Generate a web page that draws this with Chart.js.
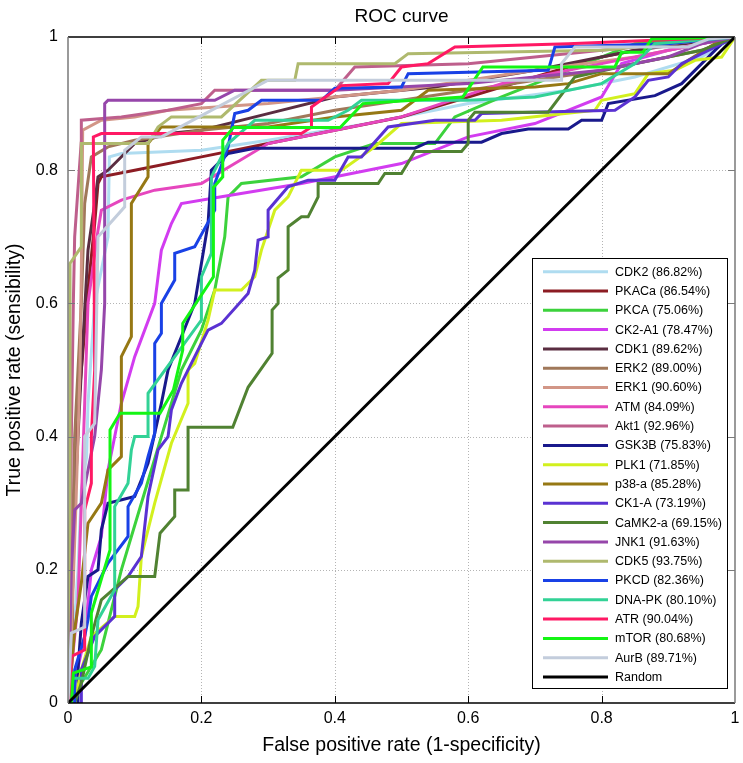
<!DOCTYPE html>
<html lang="en">
<head>
<meta charset="UTF-8">
<title>ROC curve</title>
<script src="https://cdn.jsdelivr.net/npm/chart.js"></script>
<style>
  html, body { margin: 0; padding: 0; background: #fff; }
</style>
</head>
<body>
<canvas id="roc" width="743" height="763"></canvas>
<script>
// kinase names and AUC values, in legend order
const kinases = ['CDK2', 'PKACa', 'PKCA', 'CK2-A1', 'CDK1', 'ERK2', 'ERK1', 'ATM', 'Akt1', 'GSK3B', 'PLK1',
                 'p38-a', 'CK1-A', 'CaMK2-a', 'JNK1', 'CDK5', 'PKCD', 'DNA-PK', 'ATR', 'mTOR', 'AurB'];
const aucs = ['86.82', '86.54', '75.06', '78.47', '89.62', '89.00', '90.60', '84.09', '92.96', '75.83', '71.85',
              '85.28', '73.19', '69.15', '91.63', '93.75', '82.36', '80.10', '90.04', '80.68', '89.71'];
const colors = ['rgb(175,220,240)', 'rgb(140,28,35)', 'rgb(60,210,60)', 'rgb(210,60,240)', 'rgb(90,45,65)',
                'rgb(160,120,90)', 'rgb(210,150,135)', 'rgb(230,70,190)', 'rgb(190,95,140)', 'rgb(25,25,140)',
                'rgb(210,240,30)', 'rgb(150,120,20)', 'rgb(90,50,210)', 'rgb(80,130,50)', 'rgb(150,70,170)',
                'rgb(175,185,110)', 'rgb(25,65,230)', 'rgb(50,210,150)', 'rgb(255,25,100)', 'rgb(20,245,20)',
                'rgb(195,205,220)'];

// [false positive rate, true positive rate]
const cdk2 = [[0,0],[0.005,0.05],[0.015,0.2],[0.02,0.32],[0.028,0.37],[0.03,0.45],[0.04,0.6],[0.06,0.7],[0.062,0.82],[0.08,0.825],[0.2,0.83],[0.3,0.845],[0.45,0.87],[0.6,0.9],[0.75,0.92],[0.85,0.94],[0.95,0.97],[1,1]];
const pkaca = [[0,0],[0.005,0.05],[0.008,0.25],[0.012,0.4],[0.02,0.5],[0.03,0.62],[0.04,0.72],[0.045,0.78],[0.05,0.79],[0.1,0.8],[0.2,0.82],[0.3,0.84],[0.4,0.86],[0.5,0.88],[0.6,0.91],[0.7,0.94],[0.8,0.97],[0.9,0.99],[1,1]];
const pkca = [[0,0],[0.02,0.03],[0.05,0.08],[0.08,0.2],[0.11,0.3],[0.14,0.4],[0.17,0.5],[0.2,0.56],[0.22,0.62],[0.235,0.7],[0.24,0.76],[0.26,0.78],[0.35,0.79],[0.4,0.82],[0.46,0.84],[0.55,0.84],[0.58,0.88],[0.65,0.91],[0.75,0.95],[0.85,0.99],[1,1]];
const ck2a1 = [[0,0],[0.01,0.03],[0.025,0.1],[0.035,0.2],[0.05,0.25],[0.06,0.35],[0.08,0.45],[0.1,0.52],[0.13,0.6],[0.14,0.68],[0.155,0.72],[0.17,0.75],[0.23,0.76],[0.35,0.78],[0.5,0.81],[0.6,0.85],[0.7,0.87],[0.8,0.91],[0.83,0.96],[0.9,0.98],[1,1]];
const cdk1 = [[0,0],[0.005,0.1],[0.01,0.3],[0.02,0.5],[0.03,0.68],[0.04,0.75],[0.045,0.79],[0.06,0.8],[0.1,0.84],[0.15,0.855],[0.2,0.86],[0.3,0.885],[0.4,0.91],[0.55,0.925],[0.7,0.95],[0.85,0.98],[1,1]];
const erk2 = [[0,0],[0.005,0.15],[0.01,0.4],[0.02,0.6],[0.025,0.75],[0.035,0.82],[0.06,0.835],[0.1,0.845],[0.2,0.86],[0.3,0.87],[0.4,0.89],[0.6,0.92],[0.8,0.95],[0.95,0.98],[1,1]];
const erk1 = [[0,0],[0.005,0.1],[0.012,0.3],[0.018,0.5],[0.02,0.65],[0.022,0.86],[0.05,0.875],[0.1,0.88],[0.15,0.89],[0.3,0.9],[0.5,0.92],[0.7,0.95],[0.85,0.97],[1,1]];
const atm = [[0,0],[0.005,0.05],[0.015,0.15],[0.02,0.3],[0.025,0.45],[0.03,0.6],[0.045,0.71],[0.05,0.74],[0.08,0.755],[0.13,0.77],[0.2,0.78],[0.25,0.81],[0.3,0.84],[0.4,0.86],[0.5,0.88],[0.65,0.93],[0.8,0.96],[1,1]];
const akt1 = [[0,0],[0.003,0.2],[0.005,0.4],[0.008,0.6],[0.01,0.7],[0.02,0.845],[0.02,0.875],[0.08,0.88],[0.15,0.89],[0.2,0.9],[0.22,0.92],[0.4,0.92],[0.43,0.955],[0.6,0.96],[0.8,0.98],[1,1]];
const gsk3b = [[0.015,0],[0.015,0.05],[0.02,0.12],[0.03,0.19],[0.045,0.2],[0.05,0.26],[0.06,0.3],[0.1,0.31],[0.12,0.36],[0.14,0.45],[0.15,0.5],[0.17,0.55],[0.19,0.6],[0.2,0.66],[0.21,0.72],[0.215,0.8],[0.24,0.825],[0.28,0.833],[0.52,0.833],[0.54,0.842],[0.62,0.842],[0.65,0.855],[0.69,0.862],[0.75,0.862],[0.77,0.875],[0.8,0.875],[0.81,0.9],[0.88,0.912],[0.92,0.93],[0.98,0.99],[1,1]];
const plk1 = [[0.01,0],[0.02,0.05],[0.035,0.1],[0.07,0.13],[0.1,0.13],[0.105,0.145],[0.11,0.22],[0.13,0.3],[0.155,0.39],[0.18,0.45],[0.18,0.5],[0.19,0.51],[0.21,0.575],[0.22,0.62],[0.26,0.62],[0.28,0.64],[0.29,0.68],[0.31,0.74],[0.33,0.76],[0.35,0.8],[0.41,0.8],[0.46,0.835],[0.5,0.87],[0.65,0.875],[0.79,0.89],[0.8,0.905],[0.85,0.915],[0.87,0.945],[0.91,0.95],[0.94,0.965],[0.98,0.97],[1,1]];
const p38a = [[0,0],[0.005,0.05],[0.01,0.11],[0.02,0.18],[0.03,0.27],[0.05,0.3],[0.06,0.35],[0.08,0.37],[0.08,0.52],[0.095,0.55],[0.095,0.75],[0.12,0.79],[0.12,0.84],[0.14,0.865],[0.3,0.865],[0.4,0.88],[0.5,0.89],[0.54,0.92],[0.7,0.925],[0.75,0.93],[0.8,0.945],[0.9,0.945],[0.93,0.965],[0.97,0.99],[1,1]];
const ck1a = [[0.02,0],[0.02,0.05],[0.04,0.1],[0.07,0.13],[0.07,0.17],[0.09,0.19],[0.11,0.22],[0.12,0.31],[0.135,0.38],[0.15,0.4],[0.155,0.44],[0.17,0.48],[0.19,0.52],[0.21,0.56],[0.23,0.57],[0.27,0.615],[0.28,0.65],[0.285,0.695],[0.3,0.7],[0.3,0.74],[0.33,0.775],[0.36,0.785],[0.4,0.785],[0.42,0.82],[0.44,0.82],[0.48,0.865],[0.55,0.875],[0.61,0.875],[0.62,0.885],[0.82,0.89],[0.85,0.91],[0.87,0.935],[0.9,0.94],[0.92,0.96],[0.96,0.98],[1,1]];
const camk2a = [[0.01,0],[0.02,0.03],[0.035,0.1],[0.05,0.155],[0.09,0.19],[0.13,0.19],[0.138,0.255],[0.16,0.28],[0.16,0.32],[0.18,0.32],[0.18,0.414],[0.247,0.414],[0.27,0.474],[0.306,0.525],[0.306,0.59],[0.315,0.6],[0.315,0.638],[0.33,0.65],[0.33,0.715],[0.35,0.73],[0.36,0.73],[0.375,0.76],[0.375,0.78],[0.465,0.78],[0.475,0.795],[0.5,0.795],[0.52,0.828],[0.59,0.828],[0.6,0.84],[0.6,0.875],[0.61,0.887],[0.72,0.887],[0.76,0.94],[0.85,0.96],[0.95,0.98],[1,1]];
const jnk1 = [[0,0],[0.003,0.1],[0.005,0.2],[0.01,0.29],[0.02,0.3],[0.03,0.35],[0.04,0.4],[0.05,0.5],[0.055,0.6],[0.055,0.9],[0.06,0.905],[0.22,0.905],[0.25,0.92],[0.4,0.92],[0.6,0.93],[0.8,0.95],[0.9,0.97],[0.95,0.99],[1,1]];
const cdk5 = [[0,0],[0,0.1],[0.003,0.3],[0.003,0.66],[0.02,0.685],[0.02,0.84],[0.12,0.84],[0.135,0.865],[0.155,0.88],[0.23,0.88],[0.29,0.935],[0.34,0.935],[0.345,0.96],[0.49,0.96],[0.51,0.975],[0.8,0.98],[0.9,0.99],[1,1]];
const pkcd = [[0.01,0],[0.01,0.05],[0.025,0.1],[0.03,0.125],[0.035,0.16],[0.06,0.21],[0.09,0.25],[0.09,0.295],[0.11,0.33],[0.12,0.37],[0.13,0.405],[0.13,0.54],[0.14,0.555],[0.14,0.6],[0.16,0.635],[0.16,0.675],[0.19,0.685],[0.22,0.74],[0.22,0.78],[0.24,0.835],[0.25,0.885],[0.27,0.89],[0.29,0.905],[0.38,0.905],[0.4,0.923],[0.5,0.925],[0.51,0.945],[0.72,0.95],[0.73,0.985],[0.9,0.99],[1,1]];
const dnapk = [[0.005,0],[0.005,0.037],[0.03,0.037],[0.04,0.055],[0.045,0.125],[0.07,0.17],[0.07,0.295],[0.09,0.33],[0.095,0.38],[0.1,0.4],[0.12,0.4],[0.12,0.465],[0.2,0.575],[0.2,0.64],[0.215,0.675],[0.215,0.79],[0.24,0.84],[0.28,0.875],[0.39,0.875],[0.42,0.89],[0.44,0.905],[0.6,0.905],[0.7,0.91],[0.8,0.93],[0.85,0.96],[0.88,0.99],[1,1]];
const atr = [[0.002,0],[0.005,0.07],[0.025,0.08],[0.025,0.29],[0.035,0.33],[0.035,0.4],[0.04,0.5],[0.038,0.85],[0.05,0.855],[0.35,0.855],[0.365,0.865],[0.365,0.895],[0.41,0.927],[0.48,0.93],[0.5,0.955],[0.54,0.96],[0.58,0.985],[0.75,0.99],[1,1]];
const mtor = [[0.005,0],[0.008,0.045],[0.035,0.054],[0.035,0.135],[0.063,0.23],[0.063,0.41],[0.078,0.435],[0.138,0.435],[0.158,0.47],[0.172,0.53],[0.172,0.57],[0.218,0.64],[0.218,0.774],[0.232,0.79],[0.232,0.845],[0.248,0.864],[0.408,0.864],[0.442,0.9],[0.592,0.91],[0.622,0.955],[0.82,0.955],[0.83,0.977],[0.862,0.977],[0.875,0.997],[1,1]];
const aurb = [[0,0],[0.005,0.105],[0.025,0.114],[0.025,0.4],[0.04,0.42],[0.045,0.7],[0.085,0.745],[0.085,0.83],[0.11,0.85],[0.14,0.85],[0.3,0.935],[0.74,0.935],[0.74,0.96],[0.76,0.985],[0.93,0.985],[0.96,0.997],[1,1]];
const randomLine = [[0,0],[1,1]];

const curves = [cdk2, pkaca, pkca, ck2a1, cdk1, erk2, erk1, atm, akt1, gsk3b, plk1,
                p38a, ck1a, camk2a, jnk1, cdk5, pkcd, dnapk, atr, mtor, aurb];

const xTicks = [0, 0.2, 0.4, 0.6, 0.8, 1];
const yTicks = [0, 0.2, 0.4, 0.6, 0.8, 1];

const FONT = "'Liberation Sans', Arial, sans-serif";

const datasets = curves.map((pts, i) => ({
    label: kinases[i] + ' (' + aucs[i] + '%)',
    data: pts.map(p => ({ x: p[0], y: p[1] })),
    borderColor: colors[i],
    borderWidth: 3,
    pointRadius: 0,
    fill: false,
    tension: 0,
    order: curves.length + 1 - i   // later series drawn on top
}));
datasets.push({
    label: 'Random',
    data: randomLine.map(p => ({ x: p[0], y: p[1] })),
    borderColor: '#000',
    borderWidth: 3,
    pointRadius: 0,
    fill: false,
    order: 0
});

// matlab style tick text: 0, 0.2, ... 1
const tickText = v => String(Math.round(v * 10) / 10);

// grid, axes box, title and the inset legend
const matlabFrame = {
    id: 'matlabFrame',
    beforeDatasetsDraw(chart) {
        const { ctx, chartArea: a, scales: { x, y } } = chart;
        ctx.save();
        ctx.strokeStyle = '#b4b4b4';
        ctx.lineWidth = 1;
        ctx.setLineDash([1, 2]);
        xTicks.slice(1, -1).forEach(v => {
            const px = Math.round(x.getPixelForValue(v)) + 0.5;
            ctx.beginPath(); ctx.moveTo(px, a.top); ctx.lineTo(px, a.bottom); ctx.stroke();
        });
        yTicks.slice(1, -1).forEach(v => {
            const py = Math.round(y.getPixelForValue(v)) + 0.5;
            ctx.beginPath(); ctx.moveTo(a.left, py); ctx.lineTo(a.right, py); ctx.stroke();
        });
        ctx.restore();
    },
    afterDatasetsDraw(chart) {
        const { ctx, chartArea: a, scales: { x, y } } = chart;
        ctx.save();
        // box
        ctx.lineWidth = 1.5;
        ctx.strokeStyle = '#000';
        ctx.beginPath();
        ctx.moveTo(a.left, a.top); ctx.lineTo(a.right, a.top);
        ctx.moveTo(a.left, a.bottom); ctx.lineTo(a.right, a.bottom);
        ctx.stroke();
        ctx.strokeStyle = '#7a7a7a';
        ctx.beginPath();
        ctx.moveTo(a.left, a.top); ctx.lineTo(a.left, a.bottom);
        ctx.moveTo(a.right, a.top); ctx.lineTo(a.right, a.bottom);
        ctx.stroke();
        // inward tick marks
        ctx.lineWidth = 1;
        ctx.strokeStyle = '#000';
        xTicks.slice(1, -1).forEach(v => {
            const px = Math.round(x.getPixelForValue(v)) + 0.5;
            ctx.beginPath();
            ctx.moveTo(px, a.top); ctx.lineTo(px, a.top + 7);
            ctx.moveTo(px, a.bottom); ctx.lineTo(px, a.bottom - 7);
            ctx.stroke();
        });
        ctx.strokeStyle = '#7a7a7a';
        yTicks.slice(1, -1).forEach(v => {
            const py = Math.round(y.getPixelForValue(v)) + 0.5;
            ctx.beginPath();
            ctx.moveTo(a.left, py); ctx.lineTo(a.left + 7, py);
            ctx.moveTo(a.right, py); ctx.lineTo(a.right - 7, py);
            ctx.stroke();
        });

        // title
        ctx.fillStyle = '#000';
        ctx.font = '19px ' + FONT;
        ctx.textAlign = 'center';
        ctx.textBaseline = 'middle';
        ctx.fillText('ROC curve', (a.left + a.right) / 2, 17);

        // legend inside the plot
        const items = chart.data.datasets;
        const rowH = 19.3;
        const boxW = 195;
        const boxH = 14 + (items.length - 1) * rowH + 11;
        const bx = a.right - 8 - boxW;
        const by = a.bottom - 15 - boxH;
        ctx.fillStyle = '#fff';
        ctx.fillRect(bx, by, boxW, boxH);
        ctx.lineWidth = 1;
        ctx.strokeStyle = '#000';
        ctx.strokeRect(Math.round(bx) + 0.5, Math.round(by) + 0.5, boxW, Math.round(boxH));
        ctx.font = '12.5px ' + FONT;
        ctx.textAlign = 'left';
        items.forEach((ds, i) => {
            const ry = by + 14 + i * rowH;
            ctx.strokeStyle = ds.borderColor;
            ctx.lineWidth = 3;
            ctx.beginPath();
            ctx.moveTo(bx + 11, ry); ctx.lineTo(bx + 76, ry);
            ctx.stroke();
            ctx.fillStyle = '#000';
            ctx.fillText(ds.label, bx + 83, ry + 0.5);
        });
        ctx.restore();
    }
};

new Chart(document.getElementById('roc'), {
    type: 'line',
    data: { datasets },
    options: {
        responsive: false,
        animation: false,
        layout: { padding: { top: 37, right: 8, left: 0, bottom: 0 } },
        plugins: { legend: { display: false }, tooltip: { enabled: false } },
        scales: {
            x: {
                type: 'linear',
                min: 0, max: 1,
                afterFit: s => { s.height = 60; s.paddingLeft = 0; s.paddingRight = 0; },
                afterBuildTicks: s => { s.ticks = xTicks.map(v => ({ value: v })); },
                grid: { display: false, drawTicks: false },
                border: { display: false },
                ticks: { color: '#000', font: { family: FONT, size: 16 }, padding: 6, maxRotation: 0,
                         callback: tickText },
                title: { display: true, text: 'False positive rate (1-specificity)', color: '#000',
                         font: { family: FONT, size: 19.5 }, padding: { top: 0, bottom: 6 } }
            },
            y: {
                type: 'linear',
                min: 0, max: 1,
                afterFit: s => { s.width = 68; s.paddingTop = 0; s.paddingBottom = 0; },
                afterBuildTicks: s => { s.ticks = yTicks.map(v => ({ value: v })); },
                grid: { display: false, drawTicks: false },
                border: { display: false },
                ticks: { color: '#000', font: { family: FONT, size: 16 }, padding: 10, callback: tickText },
                title: { display: true, text: 'True positive rate (sensibility)', color: '#000',
                         font: { family: FONT, size: 19.5 }, padding: { top: 3, bottom: 0 } }
            }
        }
    },
    plugins: [matlabFrame]
});
</script>
</body>
</html>
